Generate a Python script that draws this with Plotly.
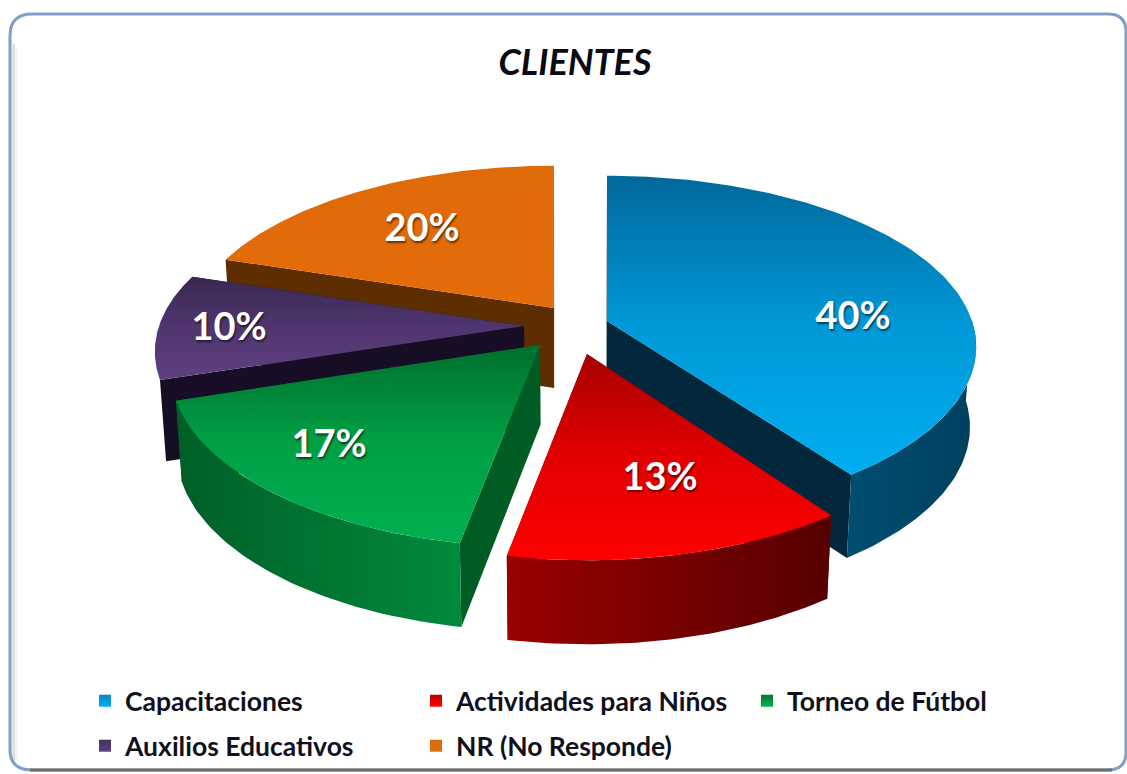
import numpy as np
import plotly.graph_objects as go

TITLE = "CLIENTES"
categories = ["Capacitaciones", "Actividades para Niños", "Torneo de Fútbol", "Auxilios Educativos", "NR (No Responde)"]
values = [40, 13, 17, 10, 20]
labels = ["40%", "13%", "17%", "10%", "20%"]

# styles
top_dark = ["#00689a", "#a80000", "#00702e", "#3a2850", "#df6a08"]
top_mid = ["#0099d8", "#e20000", "#00a045", "#4f3670", "#e26b09"]
top_light = ["#00aeef", "#ff0000", "#00b050", "#604080", "#e46c0a"]
wall_left = ["#004e70", "#9a0000", "#005f28", "#1a1028", "#5c2c00"]
wall_right = ["#013f5e", "#560000", "#008a3c", "#1a1028", "#5c2c00"]
face = ["#03283b", "#5a0000", "#005c25", "#170e25", "#5e2d00"]
swatch_top = ["#0088c4", "#b80000", "#007a33", "#443060", "#d96a0c"]
swatch_bot = ["#00aeef", "#ff0000", "#00b050", "#5f4080", "#e46c0a"]

# layout of the exploded pie, in page pixels
apex_x = [607, 587, 540, 524, 554]
apex_y = [321, 354, 345, 326, 308]
rx_scale = [1, 1, 1, 1, 0.99]
ry_scale = [1, 1.05, 1.03, 1, 0.98]
wall_slices = [0, 1, 2]
label_x = [853, 660, 329, 229, 422]
label_y = [319, 480, 447, 330, 231]
legend_x = [85, 416, 747, 85, 416]
legend_y = [701, 701, 701, 746, 746]
draw_order = [4, 3, 0, 2, 1]
RX, RY, PERSP = 365, 167, 0.15
DEPTH, DEPTH_TILT, SHRINK, MID = 80, 4, 0.985, 565
W, H = 1127, 774


def project(i, ang):
    X, Y = np.sin(ang), -np.cos(ang)
    w = 1 - PERSP * Y
    return apex_x[i] + RX * rx_scale[i] * X / w, apex_y[i] + RY * ry_scale[i] * Y / w, Y


def lower(x, y, Y):
    return MID + (np.asarray(x) - MID) * SHRINK, y + DEPTH + DEPTH_TILT * Y


def poly(xs, ys, **kw):
    return go.Scatter(x=list(xs), y=list(ys), mode="lines", fill="toself", line=dict(width=0),
                      hoverinfo="skip", showlegend=False, **kw)


fig = go.Figure()
edges = np.concatenate([[0], np.cumsum(values)]) / sum(values) * 2 * np.pi

for i in draw_order:
    a0, a1 = edges[i], edges[i + 1]
    for a in (a0, a1):
        x, y, Y = project(i, a)
        ax, ay = apex_x[i], apex_y[i]
        xb, yb = lower(x, y, Y)
        axb, ayb = lower(ax, ay, 0.0)
        fig.add_trace(poly([ax, x, float(xb), float(axb)], [ay, y, float(yb), float(ayb)],
                           fillcolor=face[i]))
    lo, hi = max(a0, np.pi / 2), min(a1, 1.5 * np.pi)
    if i in wall_slices and hi > lo:
        t = np.linspace(lo, hi, 60)
        x, y, Y = project(i, t)
        xb, yb = lower(x, y, Y)
        fig.add_trace(poly(np.r_[x, xb[::-1]], np.r_[y, yb[::-1]],
                           fillgradient=dict(type="horizontal",
                                             colorscale=[[0, wall_left[i]], [1, wall_right[i]]])))
    t = np.linspace(a0, a1, 120)
    x, y, _ = project(i, t)
    fig.add_trace(poly(np.r_[apex_x[i], x], np.r_[apex_y[i], y],
                       fillgradient=dict(type="vertical",
                                         colorscale=[[0, top_light[i]], [0.5, top_mid[i]], [1, top_dark[i]]])))

fig.add_trace(go.Scatter(x=label_x, y=label_y, text=labels, mode="text", hoverinfo="skip", showlegend=False,
                         textfont=dict(family="Lato", size=38, color="white", weight="bold",
                                       shadow="1px 2px 2px rgba(0,0,0,0.55)")))

legends = {}
for i, name in enumerate(categories):
    key = "legend" if i == 0 else f"legend{i + 1}"
    fig.add_trace(go.Scatter(x=[None], y=[None], mode="markers", name=name, legend=key,
                             marker=dict(symbol="square", size=17, color=swatch_top[i],
                                         gradient=dict(type="vertical", color=swatch_bot[i]))))
    legends[key] = dict(x=legend_x[i] / W, y=1 - legend_y[i] / H, xanchor="left", yanchor="middle",
                        bgcolor="rgba(0,0,0,0)", itemsizing="constant", itemwidth=30,
                        font=dict(family="Lato", size=26.5, color="#10101c", weight="bold"))

frame = "M 10 36 Q 10 14 32 14 L 1108 14 Q 1126 14 1126 32 L 1126 752 Q 1126 770 1108 770 L 32 770 Q 10 770 10 750 Z"
fig.update_layout(
    width=W, height=H, margin=dict(l=0, r=0, t=0, b=0), autosize=False,
    paper_bgcolor="white", plot_bgcolor="white",
    xaxis=dict(range=[0, W], visible=False, fixedrange=True),
    yaxis=dict(range=[H, 0], visible=False, fixedrange=True),
    title=dict(text="<b><i>" + TITLE + "</i></b>", x=575 / W, xanchor="center", y=1 - 62 / H, yanchor="middle",
               font=dict(family="Lato", size=36, color="#0a0a14")),
    shapes=[
        dict(type="path", path="M 13.5 44 L 13.5 762", line=dict(color="rgba(120,120,120,0.22)", width=3), layer="below"),
        dict(type="path", path="M 16 48 L 16 760", line=dict(color="rgba(120,120,120,0.08)", width=3), layer="below"),
        dict(type="path", path=frame, line=dict(color="#7f9fc6", width=3), fillcolor="rgba(0,0,0,0)", layer="below"),
        dict(type="path", path="M 30 770 L 1112 770", line=dict(color="#6e6e6e", width=3), layer="below"),
    ],
    **legends,
)
fig.write_html("out.html", config={"displayModeBar": False},
               post_script="document.body.style.margin='0';document.body.style.overflow='hidden';")
